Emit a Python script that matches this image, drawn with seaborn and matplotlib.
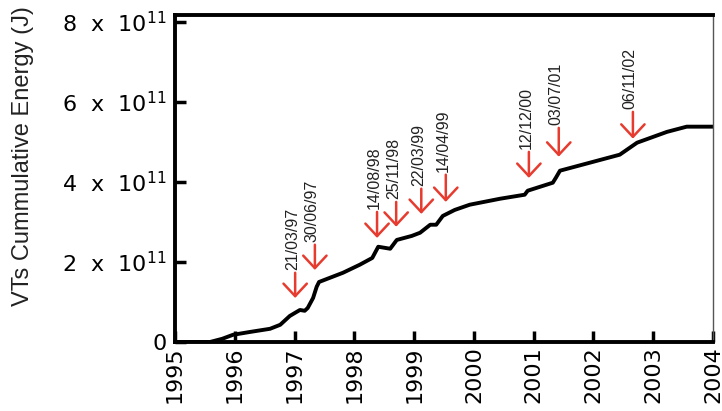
import numpy as np
import pandas as pd
import matplotlib
matplotlib.use("Agg")
import matplotlib.pyplot as plt
import seaborn as sns

# ---- data ----
years = [1995.0, 1995.585, 1995.79, 1995.97, 1996.25, 1996.59, 1996.76, 1996.92,
         1997.01, 1997.09, 1997.17, 1997.22, 1997.31, 1997.37, 1997.41, 1997.81,
         1998.09, 1998.30, 1998.40, 1998.60, 1998.71, 1998.96, 1999.10, 1999.27,
         1999.37, 1999.48, 1999.68, 1999.93, 2000.27, 2000.44, 2000.85, 2000.90,
         2001.32, 2001.37, 2001.44, 2001.94, 2002.44, 2002.73, 2003.23, 2003.56,
         2004.0]
energy_e11 = [0.0, 0.0, 0.08, 0.18, 0.25, 0.33, 0.43, 0.65,
              0.73, 0.80, 0.78, 0.85, 1.10, 1.38, 1.50, 1.73,
              1.93, 2.10, 2.38, 2.33, 2.55, 2.65, 2.73, 2.93,
              2.93, 3.15, 3.30, 3.43, 3.53, 3.58, 3.68, 3.78,
              3.98, 4.10, 4.28, 4.48, 4.68, 4.98, 5.25, 5.38,
              5.38]

event_labels = ["21/03/97", "30/06/97", "14/08/98", "25/11/98", "22/03/99",
                "14/04/99", "12/12/00", "03/07/01", "06/11/02"]
event_x = [1997.01, 1997.34, 1998.38, 1998.70, 1999.12, 1999.53, 2000.92, 2001.42, 2002.66]
arrow_top_e11 = [1.73, 2.43, 3.25, 3.50, 3.83, 4.18, 4.75, 5.35, 5.75]
arrow_tip_e11 = [1.10, 1.80, 2.60, 2.88, 3.20, 3.50, 4.10, 4.63, 5.08]

year_ticks = list(range(1995, 2005))
y_ticks_e11 = [0, 2, 4, 6, 8]
y_tick_labels = ["0", "2  x  10$^{11}$", "4  x  10$^{11}$", "6  x  10$^{11}$", "8  x  10$^{11}$"]
y_label = "VTs Cummulative Energy (J)"

# ---- figure ----
sns.set_style("ticks")
plt.rcParams["font.family"] = ["DejaVu Sans"]

fig = plt.figure(figsize=(7.22, 4.11), dpi=100)
ax = fig.add_axes([175 / 722, 1 - 342 / 411, 538 / 722, 327 / 411])

df = pd.DataFrame({"year": years, "energy": np.array(energy_e11) * 1e11})
sns.lineplot(data=df, x="year", y="energy", ax=ax, color="black", linewidth=2.8)

red = "#e63b2e"
for lab, x, top, tip in zip(event_labels, event_x, arrow_top_e11, arrow_tip_e11):
    ax.annotate("", xy=(x, tip * 1e11), xytext=(x, top * 1e11),
                arrowprops=dict(arrowstyle="->,head_length=0.45,head_width=0.42",
                                color=red, lw=1.8, mutation_scale=20,
                                shrinkA=0, shrinkB=0))
    ax.annotate(lab, xy=(x, top * 1e11), xytext=(-2, 2), textcoords="offset points",
                rotation=90, ha="center", va="bottom", fontsize=11.5,
                family=["Liberation Sans", "DejaVu Sans"], color="#222222")

ax.set_xlim(1995, 2004)
ax.set_ylim(0, 8.17e11)
ax.set_xticks(year_ticks)
ax.set_xticklabels([str(y) for y in year_ticks], rotation=90, fontsize=16)
ax.set_yticks([v * 1e11 for v in y_ticks_e11])
ax.set_yticklabels(y_tick_labels, fontsize=16)
ax.tick_params(axis="both", direction="in", width=2.5, length=8, colors="black")
ax.tick_params(axis="x", pad=3)
ax.tick_params(axis="y", pad=6)
for s in ax.spines.values():
    s.set_linewidth(2.8)
    s.set_color("black")
ax.spines["right"].set_linewidth(1.0)
ax.spines["right"].set_color("#555555")

ax.set_xlabel("")
ax.set_ylabel(y_label, fontsize=17, family=["Liberation Sans Narrow", "Liberation Sans", "DejaVu Sans"],
              color="#222222")
ax.yaxis.set_label_coords(-0.262, 0.57)

fig.savefig("out.png", dpi=100)
